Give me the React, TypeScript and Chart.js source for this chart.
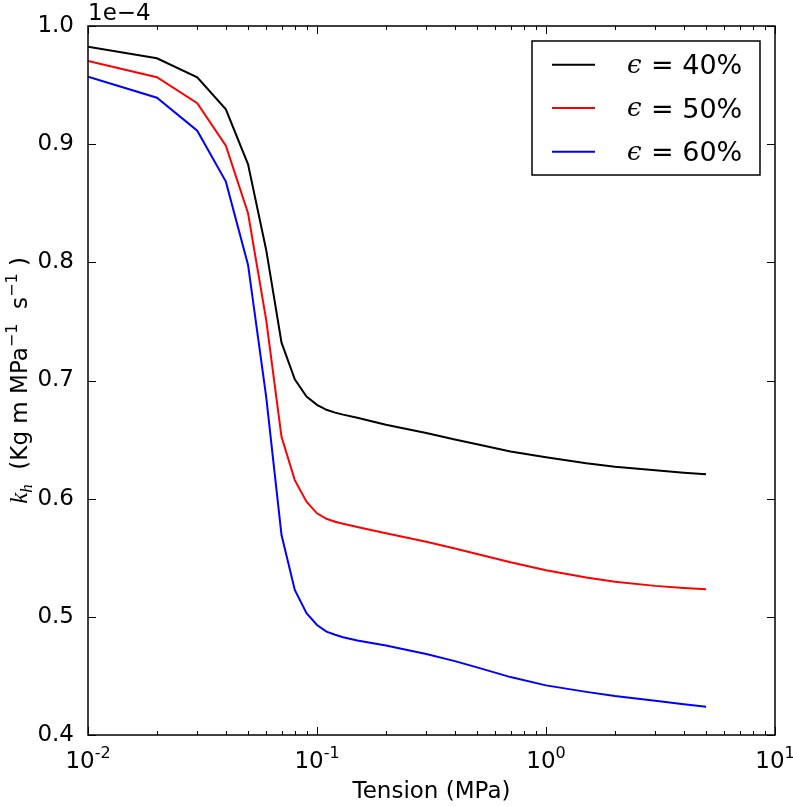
import React, { useEffect, useRef } from 'react';
import { Chart, registerables } from 'chart.js';

Chart.register(...registerables);

// Tension (MPa)
const tension = [0.01, 0.02, 0.03, 0.04, 0.05, 0.06, 0.07, 0.08, 0.09, 0.1, 0.11, 0.12, 0.13, 0.15, 0.2, 0.3, 0.4, 0.5, 0.7, 1, 1.5, 2, 3, 4, 5];
// k_h in units of 1e-4
const kh40 = [0.9825, 0.9727, 0.9566, 0.9295, 0.883, 0.8105, 0.732, 0.701, 0.6864, 0.6794, 0.6752, 0.6728, 0.6711, 0.6685, 0.6625, 0.6555, 0.65, 0.646, 0.64, 0.635, 0.63, 0.627, 0.624, 0.622, 0.6206];
const kh50 = [0.9704, 0.9566, 0.9346, 0.8987, 0.8415, 0.7513, 0.6523, 0.6157, 0.5974, 0.5876, 0.583, 0.5805, 0.5787, 0.576, 0.5708, 0.5635, 0.5578, 0.5532, 0.5462, 0.5395, 0.5333, 0.5297, 0.5262, 0.5244, 0.5233];
const kh60 = [0.9571, 0.9393, 0.9114, 0.8683, 0.7978, 0.6862, 0.5692, 0.5227, 0.503, 0.4931, 0.4875, 0.4848, 0.4828, 0.48, 0.4758, 0.4685, 0.4625, 0.4572, 0.449, 0.442, 0.4365, 0.433, 0.429, 0.426, 0.424];

const seriesLabels = ['ϵ = 40%', 'ϵ = 50%', 'ϵ = 60%'];
const seriesColors = ['#000000', '#ff0000', '#0000ff'];

const yTicks = [0.4, 0.5, 0.6, 0.7, 0.8, 0.9, 1.0];
const xMajorTicks = [0.01, 0.1, 1, 10];
const xTickExponents = ['-2', '-1', '0', '1'];
const offsetText = '1e\u22124';
const xTitle = 'Tension (MPa)';

const SANS = '"DejaVu Sans"';

type Run = { t: string; font: string; dy?: number };

function drawRuns(ctx: CanvasRenderingContext2D, runs: Run[], cx: number, baseY: number) {
  let total = 0;
  const widths = runs.map((r) => {
    ctx.font = r.font;
    const w = ctx.measureText(r.t).width;
    total += w;
    return w;
  });
  let x = cx - total / 2;
  runs.forEach((r, i) => {
    ctx.font = r.font;
    ctx.fillText(r.t, x, baseY + (r.dy || 0));
    x += widths[i];
  });
}

const mplPlugin = {
  id: 'mplDecor',
  afterDatasetsDraw(chart: any) {
    const { ctx, chartArea: a, scales } = chart;
    const xs = scales.x;
    const ys = scales.y;
    ctx.save();
    ctx.strokeStyle = '#000';
    ctx.fillStyle = '#000';
    ctx.lineWidth = 1;

    // inward ticks
    ctx.beginPath();
    for (const v of yTicks) {
      const py = Math.round(ys.getPixelForValue(v)) + 0.5;
      ctx.moveTo(a.left, py);
      ctx.lineTo(a.left + 8, py);
      ctx.moveTo(a.right, py);
      ctx.lineTo(a.right - 8, py);
    }
    const eMin = Math.round(Math.log10(xs.min));
    const eMax = Math.round(Math.log10(xs.max));
    for (let e = eMin; e <= eMax; e++) {
      for (let m = 1; m <= 9; m++) {
        const v = m * Math.pow(10, e);
        if (v < xs.min * 0.999 || v > xs.max * 1.001) continue;
        const px = Math.round(xs.getPixelForValue(v)) + 0.5;
        const len = m === 1 ? 8 : 4;
        ctx.moveTo(px, a.bottom);
        ctx.lineTo(px, a.bottom - len);
        ctx.moveTo(px, a.top);
        ctx.lineTo(px, a.top + len);
      }
    }
    ctx.stroke();

    // frame
    ctx.lineWidth = 1.5;
    ctx.strokeRect(a.left, a.top, a.right - a.left, a.bottom - a.top);

    // x tick labels 10^n
    ctx.textAlign = 'left';
    ctx.textBaseline = 'alphabetic';
    xMajorTicks.forEach((v, i) => {
      const px = xs.getPixelForValue(v);
      drawRuns(ctx, [
        { t: '10', font: `23px ${SANS}` },
        { t: xTickExponents[i], font: `16px ${SANS}`, dy: -10 },
      ], px, a.bottom + 33);
    });

    // x title
    drawRuns(ctx, [{ t: xTitle, font: `23px ${SANS}` }], (a.left + a.right) / 2, a.bottom + 63);

    // offset text
    ctx.font = `23px ${SANS}`;
    ctx.fillText(offsetText, a.left, a.top - 6);

    // y title
    ctx.save();
    ctx.translate(19, (a.top + a.bottom) / 2);
    ctx.rotate(-Math.PI / 2);
    drawRuns(ctx, [
      { t: 'k', font: `italic 25px "Liberation Serif"` },
      { t: 'h', font: `italic 17px "Liberation Serif"`, dy: 5 },
      { t: '  (Kg m MPa', font: `23px ${SANS}` },
      { t: '\u22121', font: `16px ${SANS}`, dy: -10 },
      { t: '  s', font: `23px ${SANS}` },
      { t: '\u22121', font: `16px ${SANS}`, dy: -10 },
      { t: ' )', font: `23px ${SANS}` },
    ], 0, 8);
    ctx.restore();

    // legend
    const lx = 532, ly = 41, lw = 228, lh = 134;
    ctx.fillStyle = '#fff';
    ctx.fillRect(lx, ly, lw, lh);
    ctx.lineWidth = 1.5;
    ctx.strokeStyle = '#000';
    ctx.strokeRect(lx, ly, lw, lh);
    const rows = [64.7, 108, 151.7];
    chart.data.datasets.forEach((ds: any, i: number) => {
      const ry = rows[i];
      ctx.strokeStyle = ds.borderColor;
      ctx.lineWidth = 2;
      ctx.beginPath();
      ctx.moveTo(552, ry);
      ctx.lineTo(595, ry);
      ctx.stroke();
      ctx.fillStyle = '#000';
      const label: string = ds.label;
      const sym = label.charAt(0);
      const rest = label.slice(1).trim();
      ctx.font = `italic 26px "DejaVu Serif"`;
      ctx.fillText(sym, 627, ry + 8);
      ctx.font = `27px ${SANS}`;
      ctx.fillText(rest, 651, ry + 9.5);
    });

    ctx.restore();
  },
};

export default function App() {
  const ref = useRef<HTMLCanvasElement | null>(null);
  useEffect(() => {
    document.body.style.margin = '0';
    if (!ref.current) return;
    const series = [kh40, kh50, kh60];
    const chart = new Chart(ref.current, {
      type: 'scatter',
      data: {
        datasets: series.map((s, i) => ({
          label: seriesLabels[i],
          data: tension.map((t, j) => ({ x: t, y: s[j] })),
          borderColor: seriesColors[i],
          backgroundColor: seriesColors[i],
          borderWidth: 2,
          showLine: true,
          pointRadius: 0,
          tension: 0,
        })),
      },
      options: {
        animation: false,
        responsive: false,
        maintainAspectRatio: false,
        devicePixelRatio: 1,
        layout: { padding: { top: 26, right: 18, left: 0, bottom: 0 } },
        plugins: { legend: { display: false }, tooltip: { enabled: false }, title: { display: false } },
        scales: {
          x: {
            type: 'logarithmic',
            min: 0.01,
            max: 10,
            grid: { display: false },
            border: { display: false },
            ticks: { display: false },
            afterFit: (s: any) => { s.height = 72; },
          },
          y: {
            type: 'linear',
            min: 0.4,
            max: 1.0,
            grid: { display: false },
            border: { display: false },
            ticks: {
              stepSize: 0.1,
              color: '#000',
              padding: 6,
              font: { family: 'DejaVu Sans', size: 23 },
              callback: (v: any) => Number(v).toFixed(1),
            },
            afterFit: (s: any) => { s.width = 88; },
          },
        },
      },
      plugins: [mplPlugin],
    });
    return () => chart.destroy();
  }, []);
  return <canvas ref={ref} width={793} height={807} style={{ display: 'block' }} />;
}
